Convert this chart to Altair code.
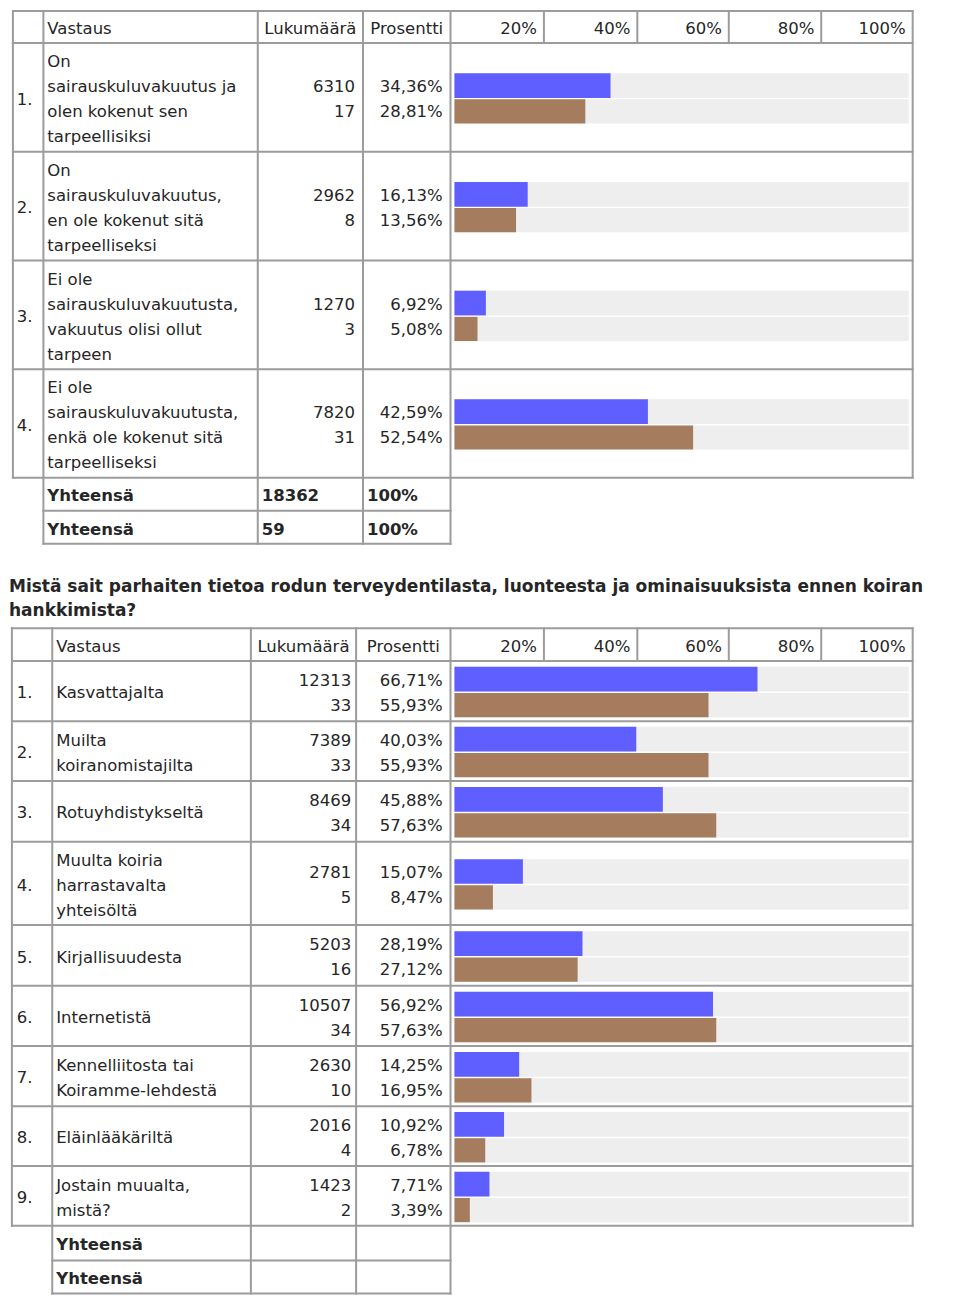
import altair as alt
import pandas as pd

# ---------------- data ----------------
T1_ANSWERS = [
    ["On", "sairauskuluvakuutus ja", "olen kokenut sen", "tarpeellisiksi"],
    ["On", "sairauskuluvakuutus,", "en ole kokenut sitä", "tarpeelliseksi"],
    ["Ei ole", "sairauskuluvakuutusta,", "vakuutus olisi ollut", "tarpeen"],
    ["Ei ole", "sairauskuluvakuutusta,", "enkä ole kokenut sitä", "tarpeelliseksi"],
]
T1_COUNT_A = [6310, 2962, 1270, 7820]
T1_COUNT_B = [17, 8, 3, 31]
T1_PCT_A = [34.36, 16.13, 6.92, 42.59]
T1_PCT_B = [28.81, 13.56, 5.08, 52.54]
T1_TOTAL_LABEL = ["Yhteensä", "Yhteensä"]
T1_TOTAL_COUNT = ["18362", "59"]
T1_TOTAL_PCT = ["100%", "100%"]

TITLE_LINES = [
    "Mistä sait parhaiten tietoa rodun terveydentilasta, luonteesta ja ominaisuuksista ennen koiran",
    "hankkimista?",
]

T2_ANSWERS = [
    ["Kasvattajalta"],
    ["Muilta", "koiranomistajilta"],
    ["Rotuyhdistykseltä"],
    ["Muulta koiria", "harrastavalta", "yhteisöltä"],
    ["Kirjallisuudesta"],
    ["Internetistä"],
    ["Kennelliitosta tai", "Koiramme-lehdestä"],
    ["Eläinlääkäriltä"],
    ["Jostain muualta,", "mistä?"],
]
T2_COUNT_A = [12313, 7389, 8469, 2781, 5203, 10507, 2630, 2016, 1423]
T2_COUNT_B = [33, 33, 34, 5, 16, 34, 10, 4, 2]
T2_PCT_A = [66.71, 40.03, 45.88, 15.07, 28.19, 56.92, 14.25, 10.92, 7.71]
T2_PCT_B = [55.93, 55.93, 57.63, 8.47, 27.12, 57.63, 16.95, 6.78, 3.39]
T2_TOTAL_LABEL = ["Yhteensä", "Yhteensä"]
T2_TOTAL_COUNT = ["", ""]
T2_TOTAL_PCT = ["", ""]

HEADERS = ["Vastaus", "Lukumäärä", "Prosentti"]
TICK_LABELS = ["20%", "40%", "60%", "80%", "100%"]
SERIES = ["A", "B"]
COLORS = ["#5f5fff", "#a67c5e"]

# ---------------- layout (reference pixel units) ----------------
W, H = 944, 1288
REF_W, REF_H = 960, 1304
SX = W / REF_W
SY = H / REF_H
BAR_X0, BAR_X100 = 454, 916
TICK_COLS = [545, 640, 733, 827, 920]
TEXT_COLOR = "#262626"
BORDER = "#9c9c9c"
FONT = "DejaVu Sans"
FS = 16.5
TITLE_FS = 17
BASE = 7.3
LINE = 25.3

TABLES = [
    dict(cols=[5, 36, 254, 361, 450, 920],
         rows=[3, 35.5, 145.5, 255.7, 365.7, 475.5],
         totals=[475.5, 509, 542.5], cnt_right=353,
         answers=T1_ANSWERS, ca=T1_COUNT_A, cb=T1_COUNT_B,
         pa=T1_PCT_A, pb=T1_PCT_B,
         tl=T1_TOTAL_LABEL, tc=T1_TOTAL_COUNT, tp=T1_TOTAL_PCT),
    dict(cols=[4, 45, 247, 354, 450, 920],
         rows=[628, 661, 722, 782.5, 844, 928.5, 990, 1051, 1112, 1172.5, 1233],
         totals=[1233, 1268, 1301.5], cnt_right=349,
         answers=T2_ANSWERS, ca=T2_COUNT_A, cb=T2_COUNT_B,
         pa=T2_PCT_A, pb=T2_PCT_B,
         tl=T2_TOTAL_LABEL, tc=T2_TOTAL_COUNT, tp=T2_TOTAL_PCT),
]


def fmt_pct(v):
    return f"{v:.2f}".replace(".", ",") + "%"


borders, bg, bars = [], [], []
t_left, t_right, t_center, t_bold, t_title = [], [], [], [], []

for T in TABLES:
    cols, rows, tot = T["cols"], T["rows"], T["totals"]
    top, bottom = rows[0], rows[-1]
    for r in rows:
        borders.append(dict(x=cols[0], x2=cols[-1], y=r, y2=r))
    for c in cols:
        borders.append(dict(x=c, x2=c, y=top, y2=bottom))
    for c in TICK_COLS[:-1]:
        borders.append(dict(x=c, x2=c, y=rows[0], y2=rows[1]))
    for r in tot[1:]:
        borders.append(dict(x=cols[1], x2=cols[4], y=r, y2=r))
    for c in cols[1:5]:
        borders.append(dict(x=c, x2=c, y=tot[0], y2=tot[-1]))

    hb = (rows[0] + rows[1]) / 2 + BASE
    t_left.append(dict(x=cols[1] + 4, y=hb, t=HEADERS[0]))
    t_center.append(dict(x=(cols[2] + cols[3]) / 2, y=hb, t=HEADERS[1]))
    t_center.append(dict(x=(cols[3] + cols[4]) / 2, y=hb, t=HEADERS[2]))
    for c, lab in zip(TICK_COLS, TICK_LABELS):
        t_right.append(dict(x=c - 7, y=hb, t=lab))

    for i, ans in enumerate(T["answers"]):
        c = (rows[i + 1] + rows[i + 2]) / 2
        t_left.append(dict(x=9, y=c + BASE, t=f"{i + 1}."))
        n = len(ans)
        for j, line in enumerate(ans):
            t_left.append(dict(x=cols[1] + 4, y=c + BASE + (j - (n - 1) / 2) * LINE, t=line))
        t_right.append(dict(x=T["cnt_right"], y=c + BASE - 12.7, t=str(T["ca"][i])))
        t_right.append(dict(x=T["cnt_right"], y=c + BASE + 12.7, t=str(T["cb"][i])))
        t_right.append(dict(x=442, y=c + BASE - 12.7, t=fmt_pct(T["pa"][i])))
        t_right.append(dict(x=442, y=c + BASE + 12.7, t=fmt_pct(T["pb"][i])))
        spans = [(c - 24.5, c + 0.5), (c + 2, c + 26.5)]
        for s, (y0, y1), v in zip(SERIES, spans, [T["pa"][i], T["pb"][i]]):
            bg.append(dict(lo=0, hi=100, y=y0, y2=y1))
            bars.append(dict(lo=0, hi=v, y=y0, y2=y1, series=s))

    for k in range(2):
        b = (tot[k] + tot[k + 1]) / 2 + BASE
        t_bold.append(dict(x=cols[1] + 4, y=b, t=T["tl"][k]))
        if T["tc"][k]:
            t_bold.append(dict(x=cols[2] + 4, y=b, t=T["tc"][k]))
        if T["tp"][k]:
            t_bold.append(dict(x=cols[3] + 4, y=b, t=T["tp"][k]))

for j, line in enumerate(TITLE_LINES):
    t_title.append(dict(x=1, y=591 + j * 25, t=line))

XS = alt.Scale(domain=[0, REF_W], range=[0, W], nice=False, zero=False)
YS = alt.Scale(domain=[0, REF_H], range=[0, H], nice=False, zero=False)
PS = alt.Scale(domain=[0, 100], range=[BAR_X0 * SX, BAR_X100 * SX], nice=False, zero=False)

base_x = alt.X("x:Q", scale=XS, axis=None)
base_y = alt.Y("y:Q", scale=YS, axis=None)

bg_layer = alt.Chart(pd.DataFrame(bg)).mark_rect(color="#eeeeee").encode(
    x=alt.X("lo:Q", scale=PS, axis=None), x2="hi:Q",
    y=base_y, y2="y2:Q")

bar_layer = alt.Chart(pd.DataFrame(bars)).mark_rect().encode(
    x=alt.X("lo:Q", scale=PS, axis=None), x2="hi:Q",
    y=base_y, y2="y2:Q",
    color=alt.Color("series:N", scale=alt.Scale(domain=SERIES, range=COLORS), legend=None))

border_layer = alt.Chart(pd.DataFrame(borders)).mark_rule(
    color=BORDER, strokeWidth=2, strokeCap="square").encode(
    x=base_x, x2="x2:Q", y=base_y, y2="y2:Q")


def text_layer(rows_, align, bold=False, size=FS):
    return alt.Chart(pd.DataFrame(rows_)).mark_text(
        align=align, baseline="alphabetic", font=FONT, fontSize=size,
        fontWeight="bold" if bold else "normal", color=TEXT_COLOR).encode(
        x=base_x, y=base_y, text="t:N")


chart = alt.layer(
    bg_layer, bar_layer, border_layer,
    text_layer(t_left, "left"), text_layer(t_right, "right"),
    text_layer(t_center, "center"), text_layer(t_bold, "left", True),
    text_layer(t_title, "left", True, TITLE_FS),
).resolve_scale(x="independent").properties(
    width=W, height=H, padding=0, background="white",
    autosize=alt.AutoSizeParams(type="none"),
).configure_view(stroke=None)

chart.save("out.html", embed_options={"renderer": "svg", "actions": False})
